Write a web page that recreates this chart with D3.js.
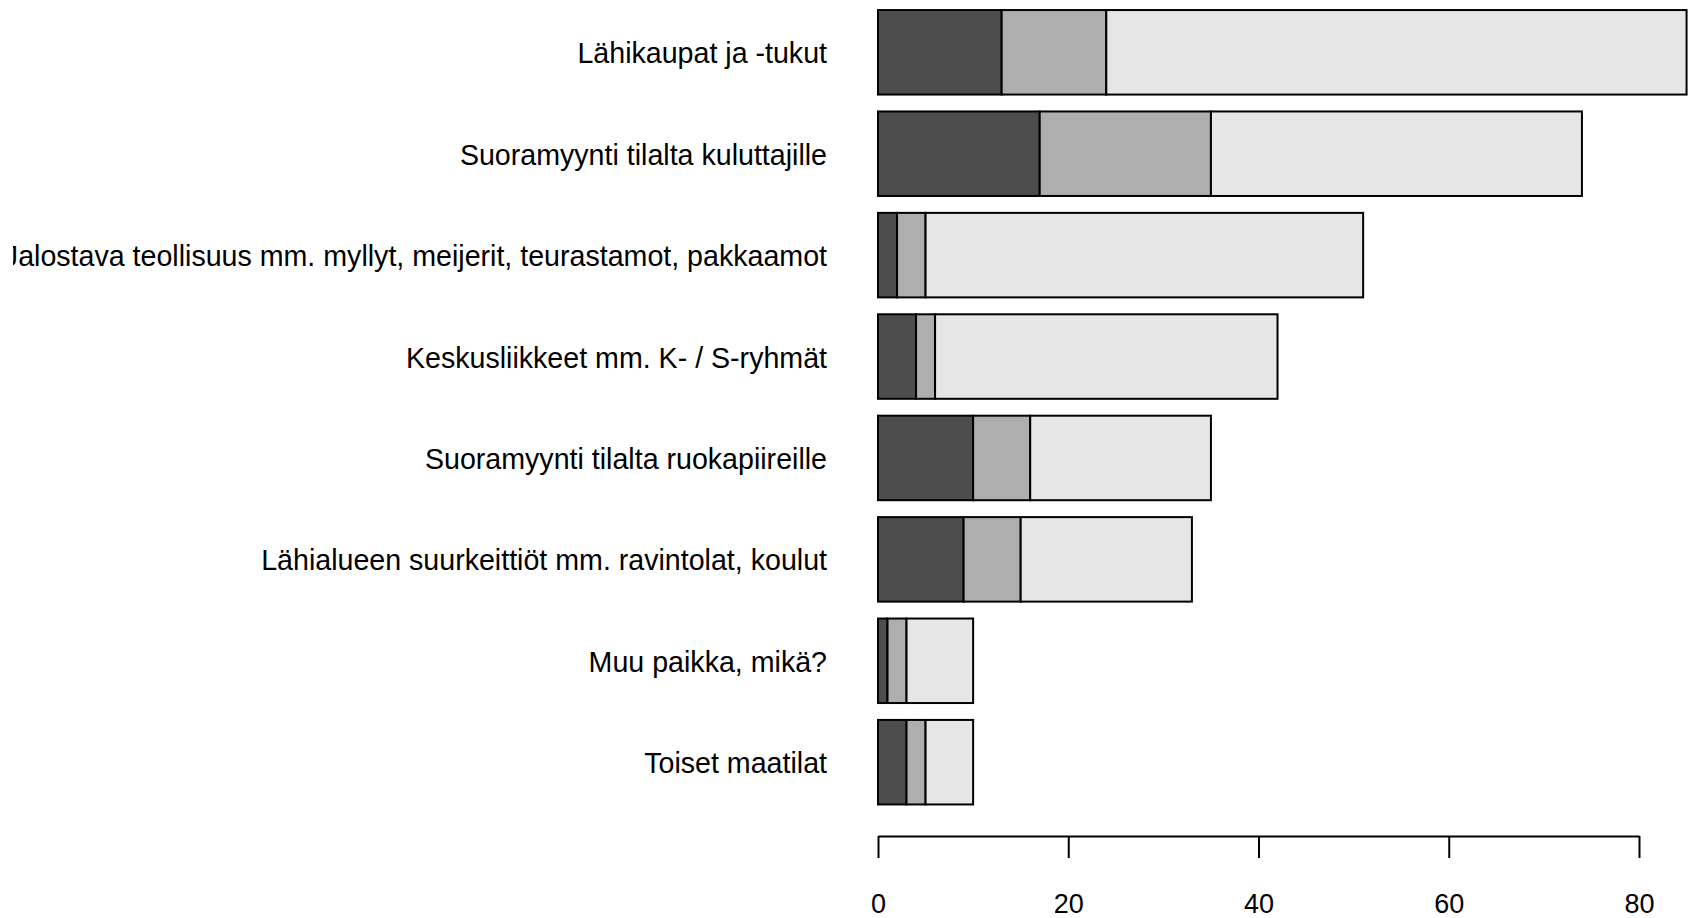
<!DOCTYPE html>
<html>
<head>
<meta charset="utf-8">
<script src="https://cdn.jsdelivr.net/npm/d3@7"></script>
<style>
  html, body { margin: 0; padding: 0; background: #fff; }
  svg { display: block; }
  text { font-family: "Liberation Sans", Arial, sans-serif; fill: #000; }
</style>
</head>
<body>
<svg id="chart" width="1694" height="918"></svg>
<script>
const categories = [
  "Lähikaupat ja -tukut",
  "Suoramyynti tilalta kuluttajille",
  "Jalostava teollisuus mm. myllyt, meijerit, teurastamot, pakkaamot",
  "Keskusliikkeet mm. K- / S-ryhmät",
  "Suoramyynti tilalta ruokapiireille",
  "Lähialueen suurkeittiöt mm. ravintolat, koulut",
  "Muu paikka, mikä?",
  "Toiset maatilat"
];
const seriesA = [13, 17, 2, 4, 10, 9, 1, 3];
const seriesB = [11, 18, 3, 2, 6, 6, 2, 2];
const seriesC = [61, 39, 46, 36, 19, 18, 7, 5];
const seriesColors = ["#4D4D4D", "#AEAEAE", "#E6E6E6"];
const xTicks = [0, 20, 40, 60, 80];

const svg = d3.select("#chart");

const x = d3.scaleLinear().domain([0, 80]).range([878, 1639]);
const y = d3.scaleBand().domain(categories).range([1.6, 812.9])
  .paddingInner(0.1667).paddingOuter(0.0833);

const rows = categories.map((c, i) => ({ cat: c, A: seriesA[i], B: seriesB[i], C: seriesC[i] }));
const stack = d3.stack().keys(["A", "B", "C"])(rows);

svg.append("defs").append("clipPath").attr("id", "clipL")
  .append("rect").attr("x", 13).attr("y", 0).attr("width", 1694).attr("height", 918);

const g = svg.append("g");
stack.forEach((layer, k) => {
  g.selectAll(null).data(layer).enter().append("rect")
    .attr("x", d => x(d[0]))
    .attr("y", d => y(d.data.cat))
    .attr("width", d => x(d[1]) - x(d[0]))
    .attr("height", y.bandwidth())
    .attr("fill", seriesColors[k])
    .attr("stroke", "#000")
    .attr("stroke-width", 2);
});

svg.append("g").attr("clip-path", "url(#clipL)")
  .selectAll("text").data(categories).enter().append("text")
  .attr("x", 827)
  .attr("y", d => y(d) + y.bandwidth() / 2 + 11)
  .attr("text-anchor", "end")
  .attr("font-size", 28.6)
  .text(d => d);

const axis = d3.axisBottom(x).tickValues(xTicks).tickSizeOuter(0).tickSizeInner(22);
const ax = svg.append("g").attr("transform", "translate(0,836)").call(axis);
ax.select(".domain").attr("stroke", "#000").attr("stroke-width", 2);
ax.selectAll(".tick line").attr("stroke", "#000").attr("stroke-width", 2);
ax.selectAll(".tick text")
  .attr("dy", null)
  .attr("y", 77)
  .attr("font-size", 27)
  .attr("font-family", "'Liberation Sans', Arial, sans-serif")
  .attr("fill", "#000");
</script>
</body>
</html>
